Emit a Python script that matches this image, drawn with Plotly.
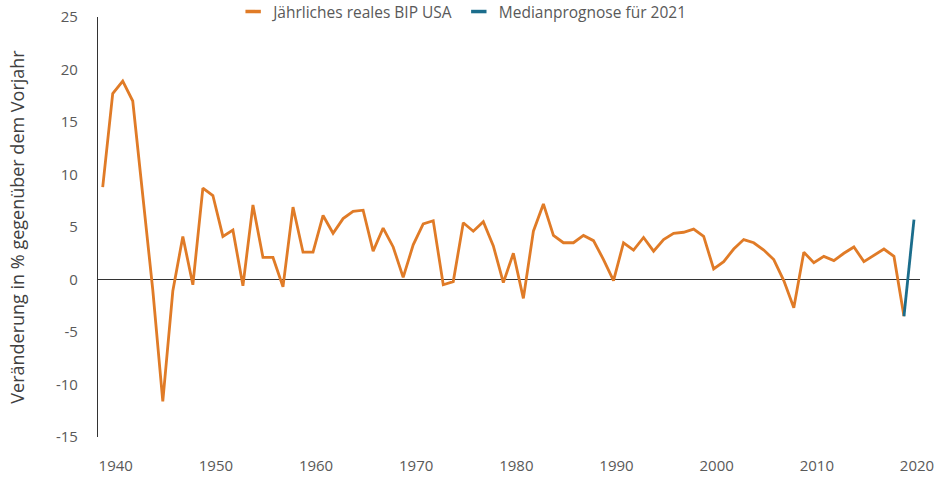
import plotly.graph_objects as go

years = list(range(1940, 2021))
gdp = [8.8, 17.7, 18.9, 17.0, 8.0, -1.0, -11.6, -1.1, 4.1, -0.5,
       8.7, 8.0, 4.1, 4.7, -0.6, 7.1, 2.1, 2.1, -0.7, 6.9,
       2.6, 2.6, 6.1, 4.4, 5.8, 6.5, 6.6, 2.7, 4.9, 3.1,
       0.2, 3.3, 5.3, 5.6, -0.5, -0.2, 5.4, 4.6, 5.5, 3.2,
       -0.3, 2.5, -1.8, 4.6, 7.2, 4.2, 3.5, 3.5, 4.2, 3.7,
       1.9, -0.1, 3.5, 2.8, 4.0, 2.7, 3.8, 4.4, 4.5, 4.8,
       4.1, 1.0, 1.7, 2.9, 3.8, 3.5, 2.8, 1.9, -0.1, -2.7,
       2.6, 1.6, 2.2, 1.8, 2.5, 3.1, 1.7, 2.3, 2.9, 2.2,
       -3.5]
forecast_years = [2020, 2021]
forecast_vals = [-3.5, 5.7]

tick_years = [1940, 1950, 1960, 1970, 1980, 1990, 2000, 2010, 2020]
tick_labels = [str(y) for y in tick_years]
y_ticks = [25, 20, 15, 10, 5, 0, -5, -10, -15]
y_tick_labels = [str(v) for v in y_ticks]

orange = "#E07B27"
blue = "#1B6D8C"
label_shift = 1.3

fig = go.Figure()
fig.add_trace(go.Scatter(x=years, y=gdp, mode="lines",
                         line=dict(color=orange, width=2.8),
                         showlegend=False))
fig.add_trace(go.Scatter(x=forecast_years, y=forecast_vals, mode="lines",
                         line=dict(color=blue, width=2.8),
                         showlegend=False))
# legend entries
fig.add_trace(go.Scatter(x=[None], y=[None], mode="markers",
                         marker=dict(symbol="line-ew-open", size=11, color=orange,
                                     line=dict(color=orange, width=3.5)),
                         name="Jährliches reales BIP USA"))
fig.add_trace(go.Scatter(x=[None], y=[None], mode="markers",
                         marker=dict(symbol="line-ew-open", size=11, color=blue,
                                     line=dict(color=blue, width=3.5)),
                         name="Medianprognose für 2021"))

fig.update_layout(
    width=939, height=492,
    margin=dict(l=98, r=19, t=17, b=55, autoexpand=False),
    paper_bgcolor="white", plot_bgcolor="white",
    font=dict(family="Open Sans", size=14, color="#595959"),
    legend=dict(orientation="h", x=0.443, xanchor="center", y=1.012,
                yanchor="middle", font=dict(size=15.5, color="#595959"),
                itemwidth=30, traceorder="normal", bgcolor="rgba(0,0,0,0)"),
    xaxis=dict(range=[1939.53, 2021.6],
               tickmode="array",
               tickvals=[y + label_shift for y in tick_years],
               ticktext=tick_labels,
               showgrid=False, zeroline=False, showline=False,
               ticks="", ticklabelstandoff=18, ticklabeloverflow="allow",
               tickfont=dict(size=15, color="#595959")),
    yaxis=dict(range=[-15, 25], tickmode="array", tickvals=y_ticks,
               ticktext=y_tick_labels,
               showgrid=False, zeroline=True, zerolinecolor="#333333",
               zerolinewidth=1, showline=True, linecolor="#333333",
               linewidth=1.2, ticks="", ticklabelstandoff=16,
               ticklabeloverflow="allow",
               tickfont=dict(size=15, color="#595959"),
               title=dict(text="Veränderung in % gegenüber dem Vorjahr",
                          font=dict(size=18, color="#404040"),
                          standoff=26)),
)

fig.write_html("out.html",
               config={"displayModeBar": False},
               post_script="document.body.style.margin='0px';")
